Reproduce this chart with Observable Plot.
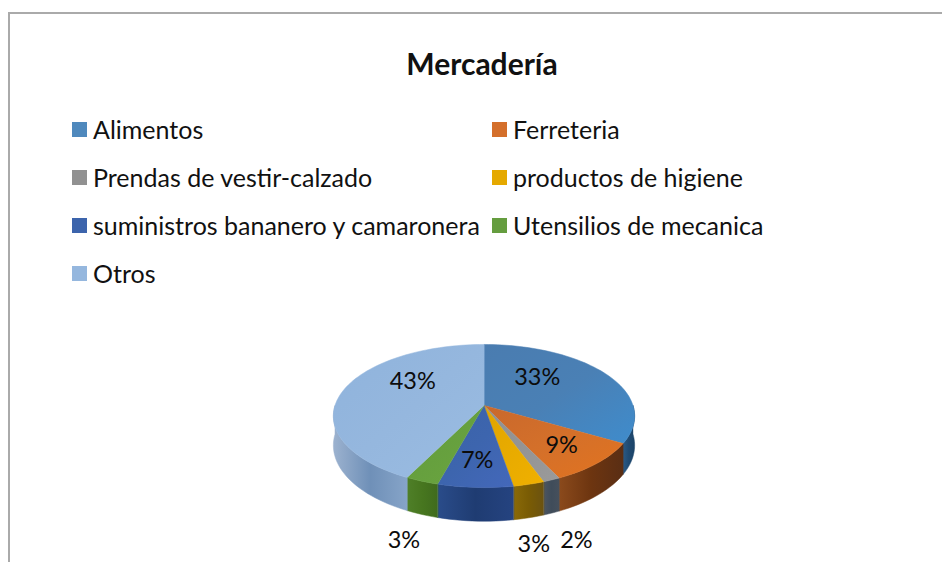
<!DOCTYPE html>
<html lang="es">
<head>
<meta charset="utf-8">
<script src="https://cdn.jsdelivr.net/npm/d3@7"></script>
<script src="https://cdn.jsdelivr.net/npm/@observablehq/plot@0.6"></script>
<style>
  html, body { margin: 0; padding: 0; background: #fff; overflow: hidden; }
  #page { position: relative; width: 942px; height: 562px; overflow: hidden; font-family: Lato, "Open Sans", sans-serif; color: #111; }
  #frame { position: absolute; left: 8px; top: 12px; width: 960px; height: 600px; border: 2px solid #aaa; box-sizing: border-box; }
  #title { position: absolute; left: 0; top: 44px; width: 964px; text-align: center; font-size: 30px; font-weight: 700; line-height: 38px; margin: 0; color: #111; }
  #legend { position: absolute; left: 0; top: 0; }
  .item { position: absolute; white-space: nowrap; font-size: 25px; line-height: 30px; padding-left: 21px; }
  .item i { position: absolute; left: 0; top: 8px; width: 15px; height: 15px; display: block; }
  #chart { position: absolute; left: 0; top: 300px; }
  #chart svg { display: block; }
</style>
</head>
<body>
<div id="page">
  <div id="frame"></div>
  <h1 id="title"></h1>
  <div id="legend"></div>
  <div id="chart"></div>
</div>
<script>
const chartTitle = "Mercadería";
const categories = ["Alimentos", "Ferreteria", "Prendas de vestir-calzado", "productos de higiene", "suministros bananero y camaronera", "Utensilios de mecanica", "Otros"];
const shares = [33.4, 9.4, 1.6, 2.9, 7.0, 3.1, 42.6];
const swatchColors = ["#4f89bd", "#d46f2b", "#919191", "#e5a900", "#3c64ac", "#659d3f", "#95b7de"];
const topStops = [
  ["#4a7cb0", "#4a80b5", "#3f8ccc"],
  ["#c9682c", "#d4702a", "#e2731f"],
  ["#8d9296", "#949494", "#9a9a9a"],
  ["#e0a400", "#e8ab00", "#f0b000"],
  ["#3a62a8", "#3d65ae", "#4468bb"],
  ["#5f9a38", "#66a03e", "#6ba540"],
  ["#8fb3dc", "#95b7de", "#9abce2"]
];
const wallStops = [
  ["#2a5a86", "#1f4a72", "#1c4468"],
  ["#8b4a1c", "#6d3510", "#5a2e14"],
  ["#4d5560", "#3f4c5a", "#46505c"],
  ["#8a6a08", "#7a5c04", "#6b5210"],
  ["#2a4c8a", "#1f3c72", "#254380"],
  ["#4f7f28", "#47761f", "#3f6b1d"],
  ["#9cb2cf", "#6f90b8", "#86a4c8"]
];
const labelRadius = [0.45, 0.75, 1, 1, 0.7, 1, 0.5];
const labelNudge = [[-3, -13], [-5, -2], [25, 60], [5, 60], [-1, 0], [-18, 59], [0, -16]];

// Tilted disc: perspective factor and rim depth, in data units of the x/y scales
const tilt = 0.147, depth = 0.41, toRad = Math.PI / 180;
const project = (r, deg, drop = 0) => {
  const u = r * Math.sin(deg * toRad), v = -r * Math.cos(deg * toRad), w = 1 - tilt * v;
  return { x: u / w, y: (v + drop) / w };
};
const total = d3.sum(shares);
let running = 0;
const slices = shares.map((s, i) => {
  const a0 = running / total * 360;
  running += s;
  return { i, name: categories[i], label: Math.round(s) + "%", a0, a1: running / total * 360 };
});
const arc = (a0, a1, drop = 0) => {
  const n = Math.max(2, Math.ceil((a1 - a0) / 2));
  return d3.range(n + 1).map(k => project(1, a0 + (a1 - a0) * k / n, drop));
};
const topPoly = s => [project(0, 0), ...arc(s.a0, s.a1)];
const wallPoly = s => {
  const a0 = Math.max(s.a0, 90), a1 = Math.min(s.a1, 270);
  if (a1 <= a0) return null;
  return [...arc(a0, a1), ...arc(a0, a1, depth).reverse()];
};
const gradient = (id, stops, x2, y2) =>
  `<linearGradient id="${id}" x1="0" y1="0" x2="${x2}" y2="${y2}">` +
  stops.map((c, k) => `<stop offset="${k / (stops.length - 1)}" stop-color="${c}"/>`).join("") +
  `</linearGradient>`;
const defsMark = () => {
  const g = document.createElementNS("http://www.w3.org/2000/svg", "defs");
  g.innerHTML = slices.map(s => gradient("top" + s.i, topStops[s.i], 1, 1) + gradient("wall" + s.i, wallStops[s.i], 1, 0)).join("");
  return g;
};
const closedPoly = (data, fill) => Plot.line(data, { x: "x", y: "y", fill, stroke: fill, strokeWidth: 0.5, curve: "linear-closed" });

const plot = Plot.plot({
  width: 942, height: 262,
  margin: 0,
  x: { domain: [-1, 1], range: [334.5, 632.5], axis: null },
  y: { domain: [-1, 1], range: [35, 175], axis: null },
  marks: [
    defsMark,
    ...slices.filter(wallPoly).map(s => closedPoly(wallPoly(s), `url(#wall${s.i})`)),
    ...slices.map(s => closedPoly(topPoly(s), `url(#top${s.i})`)),
    ...slices.map(s => {
      const p = project(labelRadius[s.i], (s.a0 + s.a1) / 2);
      return Plot.text([{ ...p, label: s.label }], {
        x: "x", y: "y", text: "label",
        dx: labelNudge[s.i][0], dy: labelNudge[s.i][1],
        fontSize: 23.5, fontFamily: "Lato, 'Open Sans', sans-serif", fill: "#0c0c0c"
      });
    })
  ]
});
document.getElementById("chart").appendChild(plot);
document.getElementById("title").textContent = chartTitle;
const legend = d3.select("#legend");
categories.forEach((c, i) => {
  const col = i % 2, row = Math.floor(i / 2);
  const item = legend.append("div").attr("class", "item")
    .style("left", (col ? 492 : 72) + "px")
    .style("top", (113.5 + row * 48.2) + "px");
  item.append("i").style("background", swatchColors[i]);
  item.append("span").text(c);
});
</script>
</body>
</html>
